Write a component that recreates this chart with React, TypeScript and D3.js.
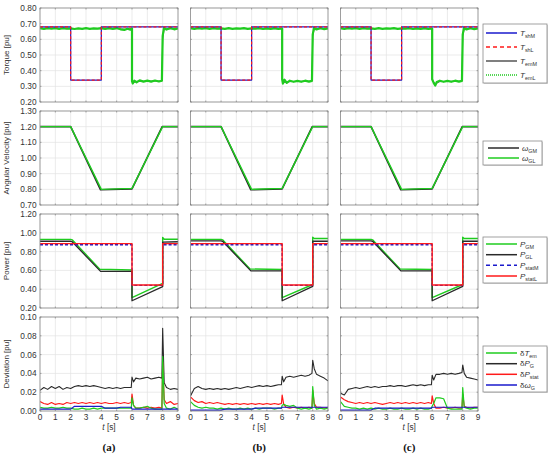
import React from 'react';
import * as d3 from 'd3';

type Pt = [number, number];

// ---------- axes / labels ----------
const timeTicks = [0, 1, 2, 3, 4, 5, 6, 7, 8, 9];
const torqueTicks = [0.2, 0.3, 0.4, 0.5, 0.6, 0.7, 0.8];
const speedTicks = [0.7, 0.8, 0.9, 1.0, 1.1, 1.2, 1.3];
const powerTicks = [0.2, 0.4, 0.6, 0.8, 1.0, 1.2];
const devTicks = [0, 0.02, 0.04, 0.06, 0.08, 0.1];
const panelLabels = ['(a)', '(b)', '(c)'];
const rowTitles = ['Torque [pu]', 'Angular Velocity [pu]', 'Power [pu]', 'Deviation [pu]'];

// ---------- torque ----------
const tShM: Pt[] = [[0, 0.68], [2, 0.68], [2, 0.34], [4, 0.34], [4, 0.68], [9, 0.68]];
const tShL: Pt[] = [[0, 0.68], [2, 0.68], [2, 0.34], [4, 0.34], [4, 0.68], [9, 0.68]];

const tEmM_a: Pt[] = [[0, 0.668], [1, 0.669], [2, 0.668], [3, 0.669], [4, 0.668], [5, 0.668], [5.6, 0.664], [6, 0.668], [6, 0.335], [6.05, 0.322], [6.3, 0.331], [7, 0.333], [7.95, 0.334], [8, 0.6], [8.1, 0.666], [9, 0.668]];
const tEmL_a: Pt[] = [[0, 0.671], [0.25, 0.667], [0.5, 0.672], [0.75, 0.668], [1, 0.671], [1.25, 0.667], [1.5, 0.671], [1.75, 0.668], [2, 0.670], [2.25, 0.666], [2.5, 0.670], [2.75, 0.667], [3, 0.671], [3.25, 0.667], [3.5, 0.670], [3.75, 0.668], [4, 0.671], [4.25, 0.667], [4.5, 0.671], [4.75, 0.667], [5, 0.672], [5.25, 0.664], [5.5, 0.660], [5.7, 0.668], [5.9, 0.662], [6, 0.670], [6, 0.333], [6.05, 0.318], [6.15, 0.336], [6.3, 0.326], [6.5, 0.338], [6.75, 0.330], [7, 0.336], [7.25, 0.330], [7.5, 0.337], [7.75, 0.331], [7.95, 0.336], [8, 0.62], [8.08, 0.672], [8.25, 0.662], [8.5, 0.673], [8.75, 0.664], [9, 0.670]];

const tEmM_b: Pt[] = [[0, 0.668], [1, 0.669], [2, 0.668], [3, 0.669], [4, 0.668], [5, 0.668], [6, 0.667], [6, 0.34], [6.1, 0.325], [6.5, 0.33], [7, 0.332], [7.95, 0.333], [8, 0.62], [8.1, 0.666], [9, 0.668]];
const tEmL_b: Pt[] = [[0, 0.671], [0.25, 0.667], [0.5, 0.672], [0.75, 0.668], [1, 0.671], [1.25, 0.667], [1.5, 0.671], [1.75, 0.668], [2, 0.670], [2.25, 0.667], [2.5, 0.671], [2.75, 0.667], [3, 0.670], [3.25, 0.668], [3.5, 0.671], [3.75, 0.667], [4, 0.670], [4.25, 0.668], [4.5, 0.671], [4.75, 0.666], [5, 0.670], [5.25, 0.667], [5.5, 0.671], [5.75, 0.667], [6, 0.669], [6, 0.345], [6.05, 0.318], [6.15, 0.342], [6.3, 0.322], [6.5, 0.336], [6.75, 0.329], [7, 0.335], [7.25, 0.329], [7.5, 0.336], [7.75, 0.330], [7.95, 0.335], [8, 0.63], [8.08, 0.672], [8.25, 0.663], [8.5, 0.672], [8.75, 0.665], [9, 0.670]];

const tEmM_c: Pt[] = [[0, 0.668], [1, 0.669], [2, 0.668], [3, 0.669], [4, 0.668], [5, 0.668], [6, 0.667], [6, 0.34], [6.2, 0.315], [6.5, 0.33], [7, 0.332], [7.95, 0.333], [8, 0.62], [8.1, 0.666], [9, 0.668]];
const tEmL_c: Pt[] = [[0, 0.671], [0.25, 0.667], [0.5, 0.672], [0.75, 0.668], [1, 0.671], [1.25, 0.667], [1.5, 0.671], [1.75, 0.668], [2, 0.670], [2.25, 0.667], [2.5, 0.671], [2.75, 0.667], [3, 0.670], [3.25, 0.668], [3.5, 0.671], [3.75, 0.667], [4, 0.670], [4.25, 0.668], [4.5, 0.671], [4.75, 0.666], [5, 0.670], [5.25, 0.667], [5.5, 0.671], [5.75, 0.667], [6, 0.669], [6, 0.345], [6.1, 0.322], [6.2, 0.305], [6.3, 0.328], [6.5, 0.336], [6.75, 0.329], [7, 0.335], [7.25, 0.329], [7.5, 0.336], [7.75, 0.330], [7.95, 0.335], [8, 0.63], [8.08, 0.672], [8.25, 0.663], [8.5, 0.672], [8.75, 0.665], [9, 0.670]];

// ---------- angular velocity ----------
const wGM: Pt[] = [[0, 1.2], [2, 1.2], [3.95, 0.797], [6, 0.803], [7.97, 1.2], [9, 1.2]];
const wGL: Pt[] = [[0, 1.2], [2, 1.2], [4, 0.8], [6, 0.806], [8, 1.2], [9, 1.2]];

// ---------- power ----------
const pGM_a: Pt[] = [[0, 0.93], [2, 0.93], [2.1, 0.925], [3.9, 0.612], [6, 0.605], [6, 0.31], [8, 0.463], [8, 0.95], [8.1, 0.932], [9, 0.932]];
const pGL_a: Pt[] = [[0, 0.91], [2, 0.91], [2.1, 0.905], [3.95, 0.59], [6, 0.59], [6, 0.277], [8, 0.427], [8, 0.9], [9, 0.905]];
const pStatM_a: Pt[] = [[0, 0.873], [6, 0.873], [6, 0.44], [8, 0.44], [8, 0.873], [9, 0.873]];
const pStatL_a: Pt[] = [[0, 0.885], [6, 0.885], [6, 0.445], [8, 0.445], [8, 0.885], [9, 0.885]];

const pGM_b: Pt[] = [[0, 0.93], [2, 0.93], [2.1, 0.925], [3.9, 0.615], [6, 0.61], [6, 0.31], [8, 0.45], [8, 0.952], [8.1, 0.94], [9, 0.94]];
const pGL_b: Pt[] = [[0, 0.915], [2, 0.915], [2.1, 0.91], [3.95, 0.595], [6, 0.595], [6, 0.277], [8, 0.43], [8, 0.91], [9, 0.91]];
const pStatM_b: Pt[] = [[0, 0.873], [6, 0.873], [6, 0.44], [8, 0.44], [8, 0.873], [9, 0.873]];
const pStatL_b: Pt[] = [[0, 0.885], [6, 0.885], [6, 0.445], [8, 0.445], [8, 0.885], [9, 0.885]];

const pGM_c: Pt[] = [[0, 0.93], [2, 0.93], [2.1, 0.925], [3.9, 0.615], [6, 0.61], [6, 0.31], [8, 0.45], [8, 0.952], [8.1, 0.94], [9, 0.94]];
const pGL_c: Pt[] = [[0, 0.915], [2, 0.915], [2.1, 0.91], [3.95, 0.595], [6, 0.595], [6, 0.277], [8, 0.43], [8, 0.91], [9, 0.91]];
const pStatM_c: Pt[] = [[0, 0.873], [6, 0.873], [6, 0.44], [8, 0.44], [8, 0.873], [9, 0.873]];
const pStatL_c: Pt[] = [[0, 0.885], [6, 0.885], [6, 0.445], [8, 0.445], [8, 0.885], [9, 0.885]];

// ---------- deviation ----------
const tDev = [0, 0.25, 0.5, 0.75, 1, 1.25, 1.5, 1.75, 2, 2.25, 2.5, 2.75, 3, 3.25, 3.5, 3.75, 4, 4.25, 4.5, 4.75, 5, 5.25, 5.5, 5.75, 5.95, 6.0, 6.1, 6.25, 6.5, 6.75, 7, 7.25, 7.5, 7.75, 7.95, 8.0, 8.1, 8.25, 8.5, 8.75, 9];

const dTem_a = [.004, .003, .003, .004, .003, .003, .004, .003, .003, .002, .002, .003, .002, .002, .003, .002, .003, .003, .003, .003, .003, .003, .003, .003, .003, .014, .006, .003, .003, .004, .005, .003, .002, .002, .002, .058, .008, .003, .002, .004, .002];
const dPG_a = [.022, .025, .023, .026, .024, .026, .023, .025, .024, .026, .027, .026, .027, .026, .027, .026, .025, .024, .025, .024, .025, .024, .025, .025, .025, .036, .031, .035, .034, .035, .036, .034, .035, .036, .035, .088, .030, .025, .023, .024, .023];
const dPstat_a = [.010, .008, .007, .009, .007, .008, .007, .009, .008, .009, .008, .009, .008, .009, .008, .009, .008, .009, .008, .008, .009, .008, .009, .008, .009, .018, .006, .003, .003, .004, .003, .004, .003, .004, .003, .052, .012, .008, .010, .007, .008];
const dW_a = [.002, .002, .002, .002, .002, .002, .002, .002, .002, .005, .005, .005, .005, .005, .005, .005, .005, .003, .003, .003, .003, .004, .004, .004, .004, .002, .002, .002, .002, .002, .002, .002, .002, .002, .002, .002, .002, .002, .002, .002, .002];

const dTem_b = [.010, .006, .004, .003, .004, .003, .003, .002, .003, .002, .003, .002, .002, .003, .002, .003, .002, .003, .002, .003, .003, .003, .002, .003, .003, .006, .007, .006, .005, .006, .003, .002, .003, .002, .003, .026, .006, .002, .003, .002, .003];
const dPG_b = [.016, .024, .026, .024, .023, .024, .023, .024, .023, .024, .023, .024, .025, .024, .025, .026, .025, .026, .027, .026, .027, .026, .027, .028, .028, .037, .031, .036, .037, .036, .037, .038, .037, .038, .040, .054, .045, .039, .037, .035, .032];
const dPstat_b = [.015, .011, .009, .010, .008, .009, .008, .009, .008, .007, .008, .007, .008, .007, .008, .007, .008, .007, .008, .007, .008, .007, .008, .007, .008, .017, .007, .004, .003, .004, .003, .004, .003, .004, .003, .022, .008, .004, .004, .003, .004];
const dW_b = [.001, .001, .001, .001, .001, .001, .001, .001, .001, .002, .002, .002, .002, .002, .002, .002, .002, .003, .003, .003, .003, .003, .003, .003, .003, .004, .004, .004, .004, .004, .004, .004, .004, .004, .004, .004, .004, .004, .004, .004, .004];

const dTem_c = [.010, .005, .004, .003, .003, .002, .003, .002, .003, .002, .003, .002, .002, .003, .002, .002, .003, .002, .002, .003, .002, .003, .002, .002, .003, .005, .008, .014, .014, .013, .003, .002, .002, .002, .002, .025, .004, .003, .002, .003, .003];
const dPG_c = [.019, .017, .023, .024, .025, .024, .025, .026, .025, .026, .025, .026, .026, .027, .026, .027, .027, .026, .027, .028, .027, .028, .027, .028, .028, .038, .033, .039, .039, .040, .039, .040, .039, .040, .041, .049, .040, .036, .035, .034, .033];
const dPstat_c = [.015, .012, .010, .009, .008, .009, .008, .009, .008, .009, .008, .007, .008, .009, .008, .009, .008, .009, .008, .009, .008, .009, .008, .009, .008, .016, .008, .003, .003, .004, .003, .003, .004, .003, .003, .018, .005, .004, .003, .004, .004];
const dW_c = [.001, .001, .001, .001, .001, .001, .001, .001, .001, .003, .003, .003, .003, .003, .003, .003, .003, .003, .003, .003, .003, .003, .003, .003, .003, .004, .004, .004, .004, .004, .004, .004, .004, .004, .004, .004, .004, .004, .004, .004, .004];

// ---------- styling ----------
const BLUE = '#1a1acc';
const RED = '#ff1a1a';
const GREEN = '#1fcc1f';
const BLACK = '#2a2a2a';
const GRAY = '#555555';
const FONT = 'Liberation Sans, Arial, Helvetica, sans-serif';

const panelX = [[40, 178], [190.5, 328], [340.5, 478]];
const rowY = [[8, 102], [111, 205], [214, 308], [317, 411]];
const rowDomains = [[0.2, 0.8], [0.7, 1.3], [0.2, 1.2], [0, 0.1]];
const rowTicks = [torqueTicks, speedTicks, powerTicks, devTicks];

type Series = { data: Pt[]; color: string; width: number; dash?: string; opacity?: number };

const zip = (v: number[]): Pt[] => v.map((d, i) => [tDev[i], d] as Pt);

const torquePanels: Series[][] = [
  [tEmM_a, tEmL_a], [tEmM_b, tEmL_b], [tEmM_c, tEmL_c],
].map(([m, l]) => [
  { data: m, color: GRAY, width: 1 },
  { data: l, color: GREEN, width: 2.2 },
  { data: tShM, color: BLUE, width: 1.2 },
  { data: tShL, color: RED, width: 1.2, dash: '3,2' },
]);

const speedPanels: Series[][] = [0, 1, 2].map(() => [
  { data: wGM, color: BLACK, width: 1.6 },
  { data: wGL, color: GREEN, width: 1.4 },
]);

const powerPanels: Series[][] = [
  [pGM_a, pGL_a, pStatM_a, pStatL_a],
  [pGM_b, pGL_b, pStatM_b, pStatL_b],
  [pGM_c, pGL_c, pStatM_c, pStatL_c],
].map(([gm, gl, sm, sl]) => [
  { data: gm, color: GREEN, width: 1.4 },
  { data: gl, color: BLACK, width: 1.3 },
  { data: sm, color: BLUE, width: 1.3, dash: '3,2' },
  { data: sl, color: RED, width: 1.4 },
]);

const devPanels: Series[][] = [
  [dTem_a, dPG_a, dPstat_a, dW_a],
  [dTem_b, dPG_b, dPstat_b, dW_b],
  [dTem_c, dPG_c, dPstat_c, dW_c],
].map(([tem, pg, ps, w]) => [
  { data: zip(pg), color: BLACK, width: 1.1 },
  { data: zip(ps), color: RED, width: 1.2 },
  { data: zip(tem), color: GREEN, width: 1.2 },
  { data: zip(w), color: BLUE, width: 1.2 },
]);

const allRows = [torquePanels, speedPanels, powerPanels, devPanels];

const fmt2 = d3.format('.2f');

function Sub({ main, sub, pre, italic = true }: { main: string; sub: string; pre?: string; italic?: boolean }) {
  return (
    <>
      {pre ? <tspan>{pre}</tspan> : null}
      <tspan fontStyle={italic ? 'italic' : 'normal'}>{main}</tspan>
      <tspan fontSize={5.4} dy={2}>{sub}</tspan>
    </>
  );
}

type LegendEntry = { color: string; dash?: string; label: React.ReactNode; width?: number };

function Legend({ x, y, w, h, rows, entries, lx0, lx1, tx }: { x: number; y: number; w: number; h: number; rows: number[]; entries: LegendEntry[]; lx0: number; lx1: number; tx: number }) {
  return (
    <g>
      <rect x={x + 1} y={y + 1} width={w} height={h} fill="#d8d8d8" />
      <rect x={x} y={y} width={w} height={h} fill="#ffffff" stroke="#8a8a8a" strokeWidth={0.8} />
      {entries.map((e, i) => (
        <g key={i}>
          <line x1={lx0} x2={lx1} y1={rows[i]} y2={rows[i]} stroke={e.color} strokeWidth={e.width ?? 1.5} strokeDasharray={e.dash} />
          <text x={tx} y={rows[i] + 2.5} fontSize={8} fontFamily={FONT} fill="#333">{e.label}</text>
        </g>
      ))}
    </g>
  );
}

export default function App() {
  const xScales = panelX.map(([a, b]) => d3.scaleLinear().domain([0, 9]).range([a, b]));
  const yScales = rowY.map(([t, b], r) => d3.scaleLinear().domain(rowDomains[r]).range([b, t]));

  return (
    <svg width={550} height={460} viewBox="0 0 550 460" style={{ position: 'absolute', left: 0, top: 0, background: '#fff' }}>
      <rect x={0} y={0} width={550} height={460} fill="#fff" />
      {allRows.map((panels, r) => {
        const ys = yScales[r];
        const [yt, yb] = rowY[r];
        return (
          <g key={r}>
            <text transform={`translate(9,${(yt + yb) / 2}) rotate(-90)`} textAnchor="middle" fontSize={8} fontFamily={FONT} fill="#333">{rowTitles[r]}</text>
            {panels.map((series, p) => {
              const xs = xScales[p];
              const [xl, xr] = panelX[p];
              const line = d3.line<Pt>().x(d => xs(d[0])).y(d => ys(d[1]));
              const clipId = `clip-${r}-${p}`;
              return (
                <g key={p}>
                  <defs>
                    <clipPath id={clipId}>
                      <rect x={xl} y={yt} width={xr - xl} height={yb - yt} />
                    </clipPath>
                  </defs>
                  <rect x={xl} y={yt} width={xr - xl} height={yb - yt} fill="#fff" />
                  {timeTicks.map(t => (
                    <line key={'gx' + t} x1={xs(t)} x2={xs(t)} y1={yt} y2={yb} stroke="#e3e3e3" strokeWidth={0.7} />
                  ))}
                  {rowTicks[r].map(v => (
                    <line key={'gy' + v} x1={xl} x2={xr} y1={ys(v)} y2={ys(v)} stroke="#e3e3e3" strokeWidth={0.7} />
                  ))}
                  <g clipPath={`url(#${clipId})`}>
                    {series.map((s, i) => (
                      <path key={i} d={line(s.data) ?? ''} fill="none" stroke={s.color} strokeWidth={s.width} strokeDasharray={s.dash} strokeLinejoin="round" opacity={s.opacity ?? 1} />
                    ))}
                  </g>
                  <rect x={xl} y={yt} width={xr - xl} height={yb - yt} fill="none" stroke="#8c8c8c" strokeWidth={0.8} />
                  {timeTicks.map(t => (
                    <g key={'tx' + t}>
                      <line x1={xs(t)} x2={xs(t)} y1={yb} y2={yb - 1.5} stroke="#777" strokeWidth={0.6} />
                      <line x1={xs(t)} x2={xs(t)} y1={yt} y2={yt + 1.5} stroke="#777" strokeWidth={0.6} />
                    </g>
                  ))}
                  {rowTicks[r].map(v => (
                    <g key={'ty' + v}>
                      <line x1={xl} x2={xl + 1.5} y1={ys(v)} y2={ys(v)} stroke="#777" strokeWidth={0.6} />
                      <line x1={xr} x2={xr - 1.5} y1={ys(v)} y2={ys(v)} stroke="#777" strokeWidth={0.6} />
                    </g>
                  ))}
                  {p === 0 && rowTicks[r].map(v => (
                    <text key={'yl' + v} x={xl - 3.5} y={ys(v) + 3} textAnchor="end" fontSize={8.3} fontFamily={FONT} fill="#333">{fmt2(v)}</text>
                  ))}
                  {r === 3 && timeTicks.map(t => (
                    <text key={'xl' + t} x={xs(t)} y={yb + 9} textAnchor="middle" fontSize={8.3} fontFamily={FONT} fill="#333">{t}</text>
                  ))}
                  {r === 3 && (
                    <text x={(xl + xr) / 2} y={yb + 18.5} textAnchor="middle" fontSize={8.3} fontFamily={FONT} fill="#333">
                      <tspan fontStyle="italic">t</tspan> [s]
                    </text>
                  )}
                  {r === 3 && (
                    <text x={(xl + xr) / 2} y={451} textAnchor="middle" fontSize={11} fontWeight="bold" fontFamily="Liberation Serif, Times New Roman, serif" fill="#111">{panelLabels[p]}</text>
                  )}
                </g>
              );
            })}
          </g>
        );
      })}

      <Legend x={483} y={24} w={64} h={59} rows={[33, 47, 61, 75]} lx0={486} lx1={517} tx={520}
        entries={[
          { color: BLUE, label: <Sub main="T" sub="shM" /> },
          { color: RED, dash: '4,3', label: <Sub main="T" sub="shL" /> },
          { color: GRAY, label: <Sub main="T" sub="emM" /> },
          { color: GREEN, dash: '1,1', width: 1.6, label: <Sub main="T" sub="emL" /> },
        ]} />
      <Legend x={483} y={141} w={59} h={24} rows={[148, 158]} lx0={488} lx1={519} tx={522}
        entries={[
          { color: BLACK, label: <Sub main="ω" sub="GM" /> },
          { color: GREEN, label: <Sub main="ω" sub="GL" /> },
        ]} />
      <Legend x={483} y={237} w={64} h={46} rows={[244, 254.7, 265.3, 276]} lx0={486} lx1={517} tx={520}
        entries={[
          { color: GREEN, label: <Sub main="P" sub="GM" /> },
          { color: BLACK, label: <Sub main="P" sub="GL" /> },
          { color: BLUE, dash: '4,3', label: <Sub main="P" sub="statM" /> },
          { color: RED, label: <Sub main="P" sub="statL" /> },
        ]} />
      <Legend x={483} y={346} w={64} h={46} rows={[353, 363.7, 374.3, 385]} lx0={486} lx1={517} tx={520}
        entries={[
          { color: GREEN, label: <Sub pre="δ" main="T" sub="em" /> },
          { color: BLACK, label: <Sub pre="δ" main="P" sub="G" /> },
          { color: RED, label: <Sub pre="δ" main="P" sub="stat" /> },
          { color: BLUE, label: <Sub pre="δ" main="ω" sub="G" /> },
        ]} />
    </svg>
  );
}
